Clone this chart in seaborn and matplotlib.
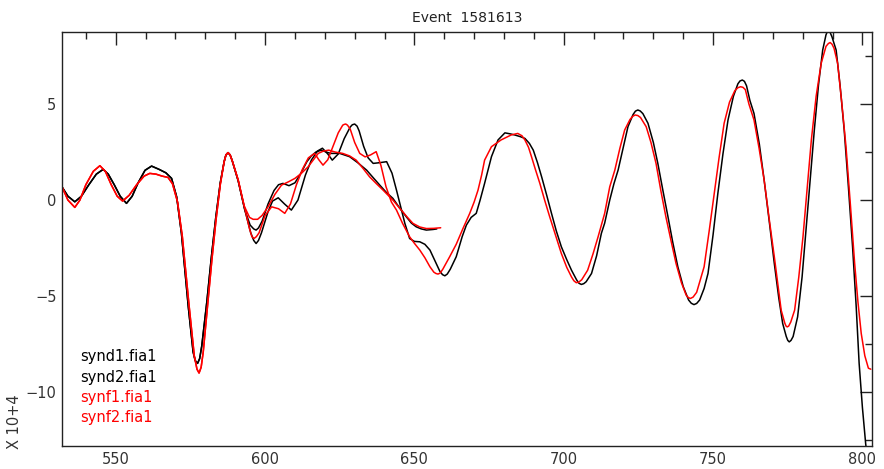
import numpy as np
import pandas as pd
import matplotlib
matplotlib.use("Agg")
import matplotlib.pyplot as plt
import seaborn as sns
from matplotlib.ticker import MultipleLocator

# ---------------- data (values in units of 10^4) ----------------
title = "Event  1581613"
series_names = ["synd1.fia1", "synd2.fia1", "synf1.fia1", "synf2.fia1"]
series_colors = ["#000000", "#000000", "#ff0000", "#ff0000"]

synd1_x = [532.0, 534.0, 536.3, 538.5, 541.0, 543.5, 545.8, 547.5, 549.5, 551.5, 553.6, 555.5, 557.5, 559.8,
           562.0, 564.5, 566.8, 568.7, 570.4, 572.0, 574.3, 575.9, 576.6, 577.4, 578.1, 578.8, 580.5, 582.0,
           583.5, 585.0, 586.3, 586.9, 587.6, 588.3, 589.0, 591.0, 593.2, 595.2, 596.2, 597.0, 597.8, 598.8,
           601.0, 602.5, 604.4, 606.5, 608.8, 611.0, 613.5, 615.5, 617.5, 619.2, 621.0, 622.5, 624.5, 626.5,
           628.5, 629.2, 630.0, 630.8, 631.5, 633.0, 634.5, 636.2, 638.5, 640.7, 642.5, 644.0, 645.5, 646.8,
           648.4, 650.0, 651.8, 653.5, 655.2, 657.0, 658.5, 659.4, 660.2, 661.0, 662.0, 664.0, 666.0, 667.4,
           669.0, 670.7, 672.0, 673.5, 675.8, 678.0, 680.3, 682.0, 683.6, 685.5, 687.0, 688.5, 689.8, 691.2,
           692.6, 694.3, 695.9, 697.5, 699.2, 701.0, 702.6, 704.3, 705.1, 705.9, 706.7, 707.5, 709.3, 711.0,
           712.6, 713.7, 715.4, 716.8, 718.2, 720.0, 721.5, 723.2, 724.0, 724.8, 725.6, 726.5, 728.2, 730.0,
           731.5, 733.2, 734.9, 736.5, 738.2, 740.0, 741.8, 742.7, 743.6, 744.5, 745.5, 747.0, 748.3, 750.0,
           751.6, 753.3, 755.0, 756.8, 758.3, 759.0, 759.8, 760.5, 761.2, 762.3, 763.7, 765.5, 767.1, 768.8,
           770.5, 772.0, 773.3, 774.5, 775.0, 775.5, 776.1, 776.8, 778.3, 779.8, 781.1, 782.5, 783.9, 785.3,
           786.7, 787.8, 788.2, 788.7, 789.2, 789.8, 791.2, 792.5, 793.9, 795.3, 796.7, 797.9, 798.9, 800.0,
           801.1, 802.0]
synd1_y = [0.69, 0.2, -0.09, 0.2, 0.8, 1.35, 1.6, 1.35, 0.8, 0.2, -0.17, 0.2, 0.9, 1.55,
           1.77, 1.6, 1.42, 1.13, 0.17, -1.73, -5.56, -7.9, -8.35, -8.5, -8.25, -7.6, -5.3, -3.0,
           -0.9, 0.9, 2.0, 2.35, 2.47, 2.35, 2.05, 1.0, -0.5, -1.7, -2.1, -2.26, -2.1, -1.7,
           -0.6, -0.05, 0.12, -0.2, -0.52, 0.0, 1.3, 2.08, 2.55, 2.7, 2.4, 2.08, 2.4, 3.2,
           3.8, 3.92, 3.96, 3.85, 3.6, 2.8, 2.2, 1.91, 1.95, 2.0, 1.4, 0.52, -0.4, -1.21,
           -2.0, -2.15, -2.17, -2.3, -2.6, -3.2, -3.7, -3.88, -3.94, -3.85, -3.6, -2.95, -1.9, -1.3,
           -0.9, -0.69, 0.0, 0.87, 2.26, 3.13, 3.5, 3.45, 3.39, 3.3, 3.21, 2.95, 2.6, 1.95,
           1.21, 0.25, -0.69, -1.6, -2.43, -3.1, -3.65, -4.15, -4.33, -4.39, -4.35, -4.25, -3.82, -2.9,
           -1.73, -1.2, 0.0, 0.85, 1.56, 2.8, 3.82, 4.45, 4.63, 4.69, 4.64, 4.5, 4.0, 3.0,
           1.91, 0.5, -0.87, -2.2, -3.47, -4.5, -5.2, -5.37, -5.44, -5.38, -5.2, -4.6, -3.82, -1.8,
           0.35, 2.4, 4.17, 5.4, 6.05, 6.2, 6.25, 6.18, 5.95, 5.2, 4.51, 2.9, 1.04, -1.1,
           -3.3, -5.1, -6.42, -7.1, -7.3, -7.38, -7.3, -7.1, -6.08, -4.0, -1.56, 1.1, 3.65, 6.0,
           7.81, 8.6, 8.75, 8.8, 8.72, 8.5, 7.81, 6.0, 3.65, 0.7, -2.43, -5.5, -8.5, -10.8,
           -12.7, -13.8]

synf1_x = [532.0, 534.0, 536.3, 538.0, 540.0, 542.5, 544.7, 546.5, 548.5, 550.5, 552.3, 554.5, 557.0, 559.5,
           561.4, 563.5, 565.5, 567.5, 569.0, 570.7, 572.3, 574.5, 576.3, 577.2, 577.9, 578.6, 579.3, 580.8,
           582.2, 583.6, 585.0, 586.3, 586.9, 587.6, 588.3, 589.0, 591.0, 593.0, 594.8, 595.6, 596.3, 597.1,
           598.0, 600.0, 602.2, 604.5, 606.6, 608.5, 610.5, 612.5, 614.5, 616.6, 618.0, 619.4, 621.0, 622.5,
           624.5, 626.0, 626.5, 627.0, 627.6, 628.5, 630.0, 631.7, 633.5, 635.3, 637.2, 638.8, 640.5, 642.3,
           644.0, 646.0, 648.4, 650.0, 651.8, 653.5, 655.2, 656.5, 657.2, 657.9, 658.6, 659.5, 661.8, 664.0,
           666.2, 668.5, 670.0, 671.3, 672.5, 673.5, 675.8, 679.0, 682.4, 684.6, 686.0, 687.0, 688.2, 689.2,
           690.5, 692.0, 693.6, 695.3, 697.2, 699.2, 701.0, 702.6, 703.4, 704.2, 705.0, 706.0, 708.0, 709.8,
           711.5, 713.7, 715.4, 717.1, 718.8, 720.4, 722.2, 723.1, 723.9, 724.8, 725.7, 727.6, 729.2, 730.9,
           732.5, 734.2, 735.9, 737.6, 739.4, 741.0, 741.7, 742.4, 743.3, 744.5, 747.0, 748.7, 750.4, 752.0,
           753.7, 755.5, 757.3, 758.3, 759.2, 760.0, 760.8, 762.0, 763.7, 765.4, 767.1, 768.8, 770.5, 771.7,
           772.8, 774.0, 774.4, 774.8, 775.3, 776.0, 777.3, 778.7, 780.1, 781.5, 782.9, 784.5, 786.2, 787.8,
           788.6, 789.2, 789.8, 790.5, 791.7, 793.0, 794.5, 796.0, 797.4, 798.5, 799.6, 800.8, 802.0, 802.8]
synf1_y = [0.69, 0.0, -0.38, 0.0, 0.8, 1.5, 1.79, 1.5, 0.8, 0.2, -0.05, 0.25, 0.8, 1.25,
           1.39, 1.35, 1.25, 1.18, 0.85, -0.1, -1.9, -5.4, -8.1, -8.8, -9.0, -8.7, -7.9, -5.4,
           -3.1, -1.0, 0.8, 2.0, 2.35, 2.47, 2.35, 2.05, 1.05, -0.3, -1.5, -1.9, -2.0, -1.9,
           -1.7, -0.8, -0.35, -0.45, -0.69, -0.2, 0.8, 1.6, 2.2, 2.43, 2.1, 1.82, 2.1, 2.7,
           3.5, 3.9, 3.94, 3.96, 3.9, 3.7, 3.0, 2.43, 2.25, 2.35, 2.52, 1.8, 0.69, -0.1,
           -0.52, -1.2, -1.91, -2.25, -2.6, -3.0, -3.47, -3.75, -3.82, -3.85, -3.8, -3.6, -2.95, -2.3,
           -1.5, -0.7, -0.1, 0.52, 1.3, 2.08, 2.78, 3.13, 3.39, 3.47, 3.35, 3.13, 2.75, 2.26,
           1.6, 0.87, 0.0, -0.87, -1.8, -2.78, -3.5, -4.0, -4.2, -4.3, -4.27, -4.15, -3.65, -2.8,
           -1.91, -0.69, 0.69, 1.56, 2.7, 3.65, 4.2, 4.36, 4.43, 4.4, 4.3, 3.82, 3.0, 1.91,
           0.5, -0.87, -2.1, -3.3, -4.3, -4.95, -5.07, -5.12, -5.05, -4.8, -3.47, -1.6, 0.35, 2.2,
           4.0, 5.1, 5.7, 5.85, 5.9, 5.87, 5.75, 5.0, 4.17, 2.7, 1.04, -1.0, -2.95, -4.4,
           -5.73, -6.4, -6.55, -6.6, -6.56, -6.35, -5.73, -4.0, -1.91, 0.6, 3.13, 5.4, 7.12, 8.0,
           8.15, 8.2, 8.12, 7.9, 7.12, 5.2, 2.78, -0.3, -3.3, -5.3, -6.94, -8.1, -8.75, -8.8]

# short traces: identical to the long ones up to the split point, then their own values
split_x = 593.0
synd2_x = [593.2, 595.0, 596.2, 597.0, 597.8, 599.0, 601.0, 603.0, 604.5, 606.0, 608.0, 610.0, 612.0, 614.0,
           615.5, 617.0, 618.8, 620.5, 622.0, 625.0, 628.3, 631.0, 634.0, 636.3, 638.4, 640.6, 642.8, 645.0,
           647.3, 649.0, 650.6, 652.3, 654.0, 656.2, 657.5]
synd2_y = [-0.5, -1.3, -1.5, -1.56, -1.45, -1.1, -0.2, 0.5, 0.8, 0.87, 0.75, 0.9, 1.4, 2.0,
           2.3, 2.5, 2.6, 2.5, 2.43, 2.43, 2.26, 1.95, 1.56, 1.15, 0.78, 0.4, 0.09, -0.4,
           -0.87, -1.2, -1.39, -1.5, -1.56, -1.53, -1.5]
synf2_x = [593.0, 594.8, 596.0, 597.5, 599.0, 601.0, 603.3, 605.5, 607.8, 610.0, 612.2, 614.4, 616.2, 617.8,
           619.5, 621.3, 623.5, 626.0, 628.3, 630.5, 632.8, 635.0, 637.3, 639.5, 641.2, 642.8, 645.6, 647.5,
           649.5, 651.8, 654.0, 656.5, 658.8]
synf2_y = [-0.3, -0.9, -1.0, -1.0, -0.8, -0.35, 0.3, 0.78, 0.95, 1.13, 1.4, 1.73, 2.1, 2.43,
           2.55, 2.6, 2.5, 2.43, 2.3, 2.08, 1.65, 1.21, 0.85, 0.52, 0.25, 0.0, -0.52, -0.87,
           -1.21, -1.4, -1.48, -1.47, -1.44]

x_major = [550, 600, 650, 700, 750, 800]
y_major = [-10, -5, 0, 5]

# ---------------- build table ----------------
def prefix(xs, ys):
    return [(a, b) for a, b in zip(xs, ys) if a < split_x]

rows = []
for name, xs, ys in [("synd1.fia1", synd1_x, synd1_y), ("synf1.fia1", synf1_x, synf1_y)]:
    for i, (a, b) in enumerate(zip(xs, ys)):
        rows.append((name, i, a, b))
for name, base_x, base_y, xs, ys in [("synd2.fia1", synd1_x, synd1_y, synd2_x, synd2_y),
                                     ("synf2.fia1", synf1_x, synf1_y, synf2_x, synf2_y)]:
    pts = prefix(base_x, base_y) + list(zip(xs, ys))
    for i, (a, b) in enumerate(pts):
        rows.append((name, i, a, b))
df = pd.DataFrame(rows, columns=["series", "order", "x", "y"])

# ---------------- plot ----------------
sns.set_style("white")
plt.rcParams["font.family"] = ["DejaVu Sans"]

fig = plt.figure(figsize=(8.84, 4.69), dpi=100)
ax = fig.add_axes([0.0701, 0.049, 0.9163, 0.8828])

palette = dict(zip(series_names, series_colors))
for name in series_names:
    sub = df[df["series"] == name].sort_values("order")
    sns.lineplot(data=sub, x="x", y="y", color=palette[name], sort=False,
                 estimator=None, lw=1.1, ax=ax, legend=False)

ax.set_xlim(532, 803.2)
ax.set_ylim(-12.8, 8.75)
ax.set_xlabel("")
ax.set_ylabel("")

ax.xaxis.set_major_locator(MultipleLocator(50))
ax.xaxis.set_minor_locator(MultipleLocator(10))
ax.yaxis.set_major_locator(MultipleLocator(5))
ax.yaxis.set_minor_locator(MultipleLocator(2.5))
ax.set_xticks(x_major)
ax.set_yticks(y_major)
ax.set_yticklabels([str(v).replace("-", "\u2212") for v in y_major])

ax.tick_params(which="both", direction="in", top=True, right=True, colors="#222222",
               labelsize=10.5, labelcolor="#333333", width=1.0)
ax.tick_params(which="major", length=9, pad=4)
ax.tick_params(which="minor", length=5)
for s in ax.spines.values():
    s.set_visible(True)
    s.set_color("#222222")
    s.set_linewidth(1.0)

ax.set_title(title, fontsize=10, color="#222222", pad=7)

# legend as coloured text lines
for i, (name, col) in enumerate(zip(series_names, series_colors)):
    fig.text(80 / 884, 1 - (357 + 20 * i) / 469, name, color=col, fontsize=10.5,
             ha="left", va="center")

fig.text(15 / 884, 1 - 422 / 469, "X 10+4", rotation=90, fontsize=10.5, color="#333333",
         ha="center", va="center")

fig.savefig("out.png", dpi=100)
